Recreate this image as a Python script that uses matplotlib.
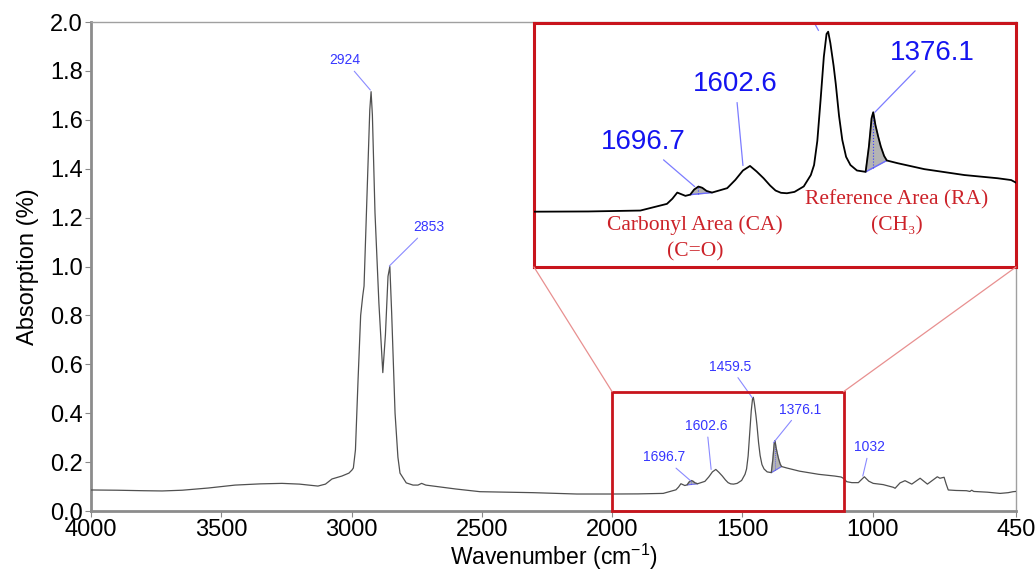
import numpy as np
import matplotlib
matplotlib.use("Agg")
import matplotlib.pyplot as plt
from matplotlib.patches import Rectangle, ConnectionPatch

plt.rcParams['font.family'] = ['Liberation Sans', 'DejaVu Sans']
plt.rcParams['mathtext.fontset'] = 'custom'
plt.rcParams['mathtext.rm'] = 'Liberation Sans'

# spectrum (wavenumber, absorption)
wavenumber = [4000, 3900, 3800, 3727, 3650, 3550, 3447, 3350, 3267, 3200,
              3129, 3100, 3075, 3037, 3010, 2998, 2993, 2985, 2975, 2965,
              2957, 2952, 2941, 2930, 2925, 2920, 2910, 2895, 2880, 2870,
              2860, 2853, 2846, 2833, 2822, 2814, 2790, 2764, 2745, 2731,
              2715, 2687, 2600, 2507, 2400, 2303, 2136, 2000, 1900, 1850,
              1804, 1755, 1745, 1736, 1721, 1712, 1705, 1697, 1690, 1682,
              1672, 1644, 1629, 1615, 1602, 1590, 1577, 1565, 1555, 1545,
              1534, 1520, 1503, 1490, 1484, 1478, 1472, 1466, 1461, 1458,
              1454, 1448, 1444, 1438, 1432, 1425, 1417, 1405, 1389, 1383,
              1378, 1375, 1371, 1366, 1361, 1355, 1350, 1330, 1281, 1207,
              1146, 1121, 1110, 1100, 1080, 1055, 1032, 1015, 998, 960,
              921, 914, 895, 876, 850, 818, 790, 752, 742, 726,
              718, 710, 680, 640, 627, 620, 612, 560, 511, 480,
              461, 450]
absorption = [0.086, 0.085, 0.083, 0.082, 0.085, 0.094, 0.106, 0.111, 0.113, 0.110,
              0.102, 0.110, 0.131, 0.143, 0.155, 0.168, 0.176, 0.250, 0.536, 0.800,
              0.880, 0.920, 1.286, 1.640, 1.715, 1.620, 1.220, 0.850, 0.566, 0.720,
              0.960, 1.000, 0.810, 0.400, 0.220, 0.155, 0.115, 0.106, 0.106, 0.113,
              0.106, 0.102, 0.090, 0.079, 0.077, 0.075, 0.0695, 0.0695, 0.070, 0.071,
              0.072, 0.0867, 0.098, 0.1115, 0.1043, 0.107, 0.118, 0.1247, 0.122, 0.115,
              0.1115, 0.1212, 0.1394, 0.160, 0.170, 0.158, 0.143, 0.127, 0.116, 0.111,
              0.110, 0.113, 0.125, 0.150, 0.172, 0.225, 0.315, 0.410, 0.460, 0.465,
              0.440, 0.390, 0.350, 0.280, 0.227, 0.190, 0.172, 0.160, 0.157, 0.2125,
              0.275, 0.288, 0.260, 0.235, 0.2125, 0.192, 0.182, 0.176, 0.163, 0.150,
              0.143, 0.139, 0.132, 0.120, 0.116, 0.116, 0.140, 0.122, 0.113, 0.108,
              0.097, 0.093, 0.115, 0.124, 0.110, 0.134, 0.110, 0.140, 0.134, 0.138,
              0.110, 0.086, 0.084, 0.083, 0.080, 0.085, 0.080, 0.077, 0.072, 0.075,
              0.079, 0.080]

# peak labels: (text, peak wavenumber, peak value, text x, text y)
main_labels = [("2924", 2928, 1.722, 3025, 1.843),
               ("2853", 2855, 1.002, 2705, 1.160),
               ("1696.7", 1698, 0.123, 1802, 0.219),
               ("1602.6", 1620, 0.170, 1637, 0.348),
               ("1459.5", 1462, 0.463, 1547, 0.590),
               ("1376.1", 1381, 0.279, 1278, 0.415),
               ("1032", 1038, 0.143, 1012, 0.261)]
inset_labels = [("1696.7", 1704, 0.1247, 1799, 0.222),
                ("1602.6", 1615, 0.171, 1629, 0.350),
                ("1376.1", 1372, 0.288, 1266, 0.418)]

# integrated areas: baseline end points
ca_range = (1712, 1672)
ra_range = (1389, 1350)
ca_peak = 1697
ra_peak = 1375

xticks = [4000, 3500, 3000, 2500, 2000, 1500, 1000, 450]
yticks = [0.0, 0.2, 0.4, 0.6, 0.8, 1.0, 1.2, 1.4, 1.6, 1.8, 2.0]

zoom_x = (2000, 1112)
zoom_top = 0.488

wn = np.array(wavenumber)
ab = np.array(absorption)


def shade(ax, lo_hi, peak, lw):
    hi, lo = lo_hi
    m = (wn <= hi) & (wn >= lo)
    ax.fill(wn[m], ab[m], color='#b4b4b4', zorder=1)
    ax.plot([hi, lo], [ab[wn == hi][0], ab[wn == lo][0]], color='#6a6aff', lw=lw, zorder=2)
    base = np.interp(peak, [lo, hi], [ab[wn == lo][0], ab[wn == hi][0]])
    ax.plot([peak, peak], [base, ab[wn == peak][0]], color='#3a3aff', lw=lw * 0.8, ls=':', zorder=2)


fig = plt.figure(figsize=(10.36, 5.70), dpi=100)
ax = fig.add_axes([0.0878, 0.1035, 0.8929, 0.8579])
ax.plot(wn, ab, color='#505050', lw=0.9, zorder=3)
shade(ax, ca_range, ca_peak, 0.7)
shade(ax, ra_range, ra_peak, 0.7)

ax.set_xlim(4000, 450)
ax.set_ylim(0, 2.0)
ax.set_xticks(xticks)
ax.set_yticks(yticks)
ax.set_yticklabels(['%.1f' % v for v in yticks])
ax.tick_params(direction='out', length=4, color='#888888', labelsize=17, pad=2)
for s in ['top', 'right']:
    ax.spines[s].set_color('#a0a0a0')
    ax.spines[s].set_linewidth(1.0)
for s in ['left', 'bottom']:
    ax.spines[s].set_color('#8c8c8c')
    ax.spines[s].set_linewidth(2.0)
ax.set_xlabel('Wavenumber (cm$^{\\mathregular{-1}}$)', fontsize=16.5, labelpad=0)
ax.set_ylabel('Absorption (%)', fontsize=17, labelpad=8)

for txt, px, py, tx, ty in main_labels:
    ax.annotate(txt, xy=(px, py), xytext=(tx, ty), ha='center', va='center',
                fontsize=10, color='#3636ff',
                arrowprops=dict(arrowstyle='-', color='#8a8aff', lw=0.8,
                                shrinkA=1, shrinkB=0))

ax.add_patch(Rectangle((zoom_x[1], 0), zoom_x[0] - zoom_x[1], zoom_top,
                       fill=False, edgecolor='#c8141c', lw=2.0, zorder=5, clip_on=False))

# zoomed view
ins = fig.add_axes([0.5154, 0.5316, 0.4653, 0.428])
ins.plot(wn, ab, color='black', lw=1.3, zorder=3)
shade(ins, ca_range, ca_peak, 1.0)
shade(ins, ra_range, ra_peak, 1.0)
ins.set_xlim(*zoom_x)
ins.set_ylim(-0.052, 0.484)
ins.set_xticks([])
ins.set_yticks([])
for s in ins.spines.values():
    s.set_color('#c8141c')
    s.set_linewidth(2.2)

for txt, px, py, tx, ty in inset_labels:
    ins.annotate(txt, xy=(px, py), xytext=(tx, ty), ha='center', va='center',
                 fontsize=20, color='#1414f0',
                 arrowprops=dict(arrowstyle='-', color='#7c7cff', lw=0.9,
                                 shrinkA=2, shrinkB=0))
ins.plot([1476, 1500], [0.468, 0.52], color='#7c7cff', lw=0.9)

red = '#cc2229'
serif = ['Liberation Serif', 'DejaVu Serif']
ins.text(1703, 0.0406, 'Carbonyl Area (CA)', ha='center', va='center', fontsize=15.5, color=red, family=serif)
ins.text(1703, -0.018, '(C=O)', ha='center', va='center', fontsize=15.5, color=red, family=serif)
ins.text(1332, 0.0955, 'Reference Area (RA)', ha='center', va='center', fontsize=15.5, color=red, family=serif)
ins.text(1332, 0.0389, '(CH\u2083)', ha='center', va='center', fontsize=15.5, color=red, family=serif)

for xa, xb in [(zoom_x[0], 0), (zoom_x[1], 1)]:
    con = ConnectionPatch(xyA=(xa, zoom_top), coordsA=ax.transData,
                          xyB=(xb, 0), coordsB=ins.transAxes,
                          color='#e89090', lw=0.9)
    fig.add_artist(con)

fig.savefig('out.png', dpi=100)
